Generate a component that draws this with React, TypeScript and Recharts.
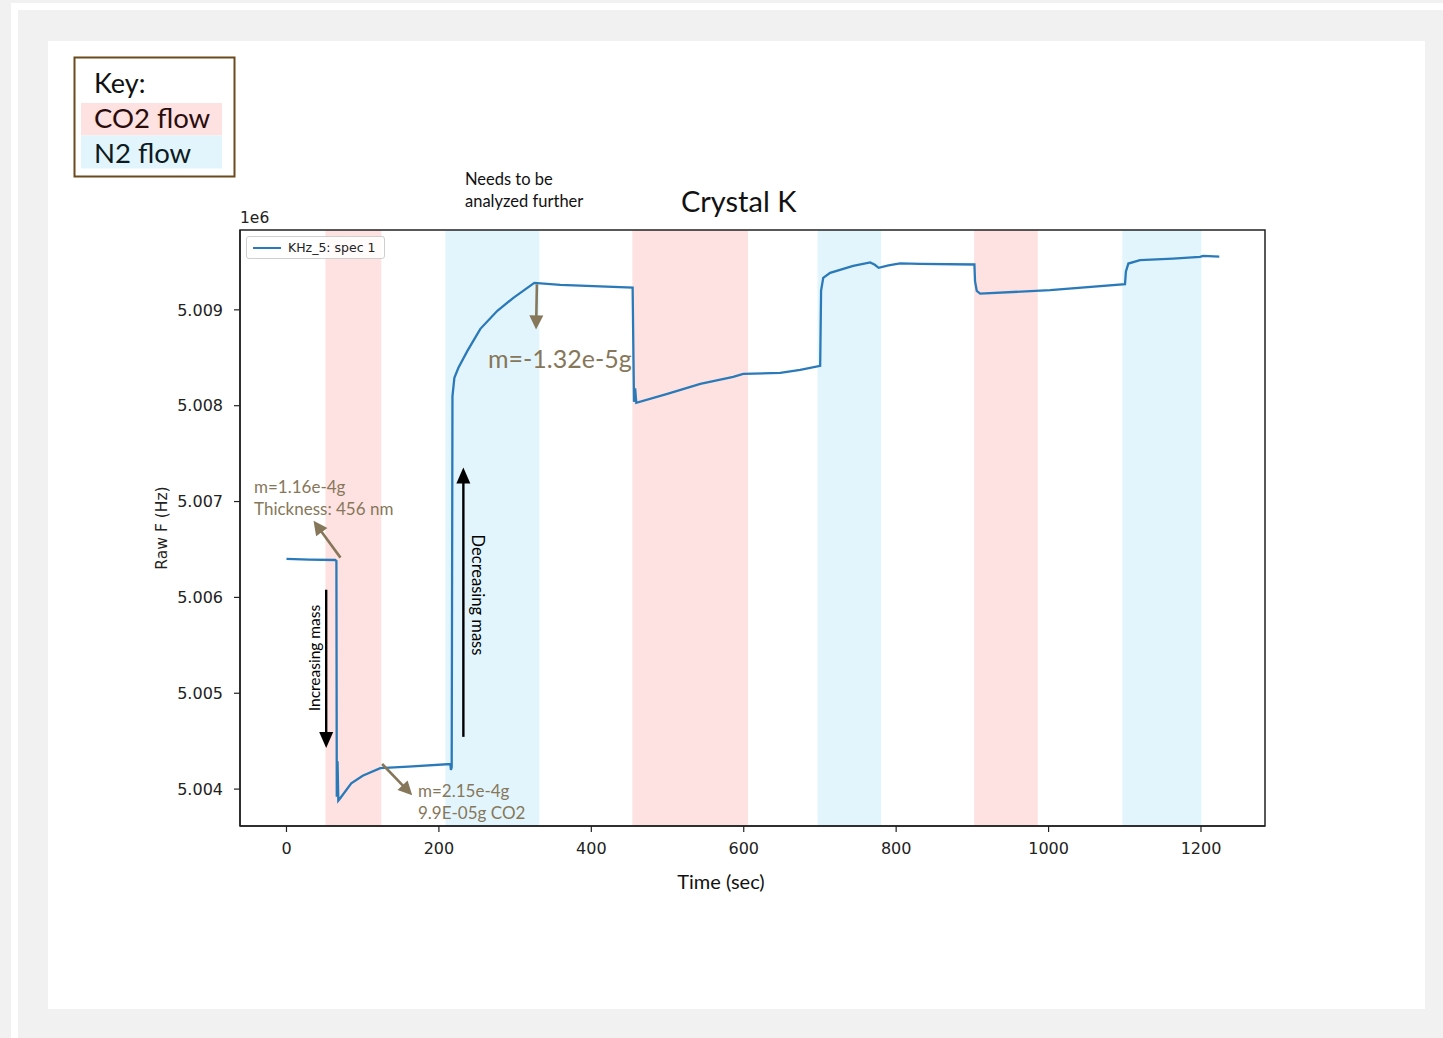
import React from 'react';
import { LineChart, Line, XAxis, YAxis, ReferenceArea, ReferenceLine } from 'recharts';

// ---- data ----
const timeSec = [
  0, 30, 64, 65.5, 66, 67, 68, 70, 85, 100, 123, 160, 215, 215.8, 216.8, 217.8,
  220.3, 225.6, 237.4, 254.4, 276.7, 297.7, 325.2, 359.3, 454.2, 456, 457.5, 459,
  499.7, 543, 586.2, 599.3, 647.9, 674.1, 700.3, 701.5, 704.3, 713.4, 743.6, 766,
  772, 777, 790, 805.2, 831.5, 902.7, 903.5, 905.8, 907, 910.2, 1002, 1100.3,
  1101.5, 1104.7, 1120, 1163.3, 1198.7, 1203, 1224,
];
const rawFreq = [
  5006401, 5006395, 5006390, 5006380, 5003920, 5004290, 5003880, 5003900, 5004060, 5004140, 5004219, 5004235, 5004261, 5004200, 5004230, 5008100,
  5008290, 5008395, 5008572, 5008802, 5008990, 5009125, 5009282, 5009261, 5009233, 5008040, 5008180, 5008030,
  5008123, 5008228, 5008301, 5008332, 5008342, 5008374, 5008415, 5009200, 5009334, 5009386, 5009459, 5009495,
  5009470, 5009438, 5009465, 5009485, 5009480, 5009473, 5009300, 5009198, 5009190, 5009170, 5009205, 5009268,
  5009400, 5009483, 5009519, 5009535, 5009553, 5009564, 5009556,
];
const co2Bands: [number, number][] = [[51.1, 124.4], [453.8, 605.6], [902.3, 985.9]];
const n2Bands: [number, number][] = [[208.5, 331.8], [696.8, 780.3], [1096.8, 1200.5]];
const xTicks = [0, 200, 400, 600, 800, 1000, 1200];
const yTicks = [5004000, 5005000, 5006000, 5007000, 5008000, 5009000];
const xDomain: [number, number] = [-61, 1284];
const yDomain: [number, number] = [5003615, 5009833];
const seriesName = 'KHz_5: spec 1';

// annotation arrows in data coordinates: [t1, v1, t2, v2]
const brownArrows: [number, number, number, number][] = [
  [70.8, 5006415, 35.5, 5006800],
  [125.5, 5004262, 165.0, 5003935],
  [328.6, 5009268, 327.5, 5008795],
];
const blackArrows: [number, number, number, number][] = [
  [52.1, 5006080, 52.1, 5004430],
  [232.1, 5004545, 232.1, 5007355],
];

const data = timeSec.map((t, i) => ({ t, f: rawFreq[i] }));

const BLUE = '#2a7ab9';
const PINK = '#fee2e2';
const CYAN = '#e3f5fc';
const BROWN = '#86775a';
const GILL = 'Lato, "Open Sans", sans-serif';
const DJV = '"DejaVu Sans", sans-serif';

function arrowShape(color: string, w: number, headLen: number, headW: number) {
  return (props: any) => {
    const { x1, y1, x2, y2 } = props;
    const dx = x2 - x1, dy = y2 - y1;
    const L = Math.hypot(dx, dy) || 1;
    const ux = dx / L, uy = dy / L;
    const bx = x2 - ux * headLen, by = y2 - uy * headLen;
    const px = -uy, py = ux;
    return (
      <g>
        <line x1={x1} y1={y1} x2={bx + ux * 2} y2={by + uy * 2} stroke={color} strokeWidth={w} />
        <polygon
          points={`${x2},${y2} ${bx + (px * headW) / 2},${by + (py * headW) / 2} ${bx - (px * headW) / 2},${by - (py * headW) / 2}`}
          fill={color}
        />
      </g>
    );
  };
}

export default function App() {
  return (
    <div style={{ position: 'absolute', left: 0, top: 0, width: 1443, height: 1038, background: '#f1f1f1', overflow: 'hidden' }}>
      {/* outer white frame stripes */}
      <div style={{ position: 'absolute', left: 11, top: 3, width: 1432, height: 7, background: '#fff' }} />
      <div style={{ position: 'absolute', left: 11, top: 3, width: 7, height: 1035, background: '#fff' }} />
      {/* white panel */}
      <div style={{ position: 'absolute', left: 48, top: 41, width: 1377, height: 968, background: '#fff' }} />

      <div style={{ position: 'absolute', left: 0, top: 0 }}>
        <LineChart width={1443} height={1038} data={data} margin={{ top: 230, right: 178, bottom: 182, left: 160 }}>
          {co2Bands.map((b, i) => (
            <ReferenceArea key={'c' + i} x1={b[0]} x2={b[1]} fill={PINK} fillOpacity={1} stroke="none" />
          ))}
          {n2Bands.map((b, i) => (
            <ReferenceArea key={'n' + i} x1={b[0]} x2={b[1]} fill={CYAN} fillOpacity={1} stroke="none" />
          ))}
          <XAxis
            dataKey="t" type="number" domain={xDomain} ticks={xTicks} allowDataOverflow height={30}
            axisLine={{ stroke: '#222', strokeWidth: 1.5 }} tickLine={{ stroke: '#222', strokeWidth: 1.2 }} tickSize={6} tickMargin={11}
            tick={{ fill: '#222', fontSize: 16, fontFamily: DJV }}
          />
          <YAxis
            type="number" domain={yDomain} ticks={yTicks} allowDataOverflow width={80}
            axisLine={{ stroke: '#222', strokeWidth: 1.5 }} tickLine={{ stroke: '#222', strokeWidth: 1.2 }} tickSize={6} tickMargin={11}
            tick={{ fill: '#222', fontSize: 16, fontFamily: DJV }}
            tickFormatter={(v: number) => (v / 1e6).toFixed(3)}
          />
          <Line type="linear" dataKey="f" name={seriesName} stroke={BLUE} strokeWidth={2.3} dot={false} isAnimationActive={false} />
          <ReferenceArea x1={xDomain[0]} x2={xDomain[1]} y1={yDomain[0]} y2={yDomain[1]} fill="none" stroke="#222" strokeWidth={1.5} ifOverflow="visible" />
          {brownArrows.map((a, i) => (
            <ReferenceLine key={'b' + i} segment={[{ x: a[0], y: a[1] }, { x: a[2], y: a[3] }]} ifOverflow="visible"
              shape={arrowShape(BROWN, 2.6, 14, 14)} />
          ))}
          {blackArrows.map((a, i) => (
            <ReferenceLine key={'k' + i} segment={[{ x: a[0], y: a[1] }, { x: a[2], y: a[3] }]} ifOverflow="visible"
              shape={arrowShape('#000', 2.4, 16, 14)} />
          ))}
        </LineChart>
      </div>

      {/* in-plot legend */}
      <div
        style={{
          position: 'absolute', left: 246, top: 236, width: 137, height: 21, border: '1px solid #cfcfcf', borderRadius: 3,
          background: 'rgba(255,255,255,0.85)',
        }}
      >
        <div style={{ position: 'absolute', left: 6, top: 10, width: 28, height: 2, background: BLUE }} />
        <div style={{ position: 'absolute', left: 41, top: 3, fontFamily: DJV, fontSize: 12.5, color: '#222', whiteSpace: 'nowrap', lineHeight: '15px' }}>
          {seriesName}
        </div>
      </div>

      <svg width={1443} height={1038} style={{ position: 'absolute', left: 0, top: 0, pointerEvents: 'none' }}>
        {/* Key box */}
        <rect x={74.5} y={57.5} width={160} height={119} fill="#fff" stroke="#6b4a1c" strokeWidth={2} />
        <rect x={81} y={103} width={141} height={32.5} fill={PINK} />
        <rect x={81} y={135.5} width={141} height={33} fill={CYAN} />
        <text x={94} y={93} fontFamily={GILL} fontSize={27} fill="#111">Key:</text>
        <text x={94} y={128} fontFamily={GILL} fontSize={27.5} fill="#2a0c0c">CO2 flow</text>
        <text x={94} y={163} fontFamily={GILL} fontSize={27.5} fill="#0c1a22">N2 flow</text>

        <text x={465} y={185} fontFamily={GILL} fontSize={16.5} fill="#111">Needs to be</text>
        <text x={465} y={207} fontFamily={GILL} fontSize={16.5} fill="#111">analyzed further</text>
        <text x={681} y={212} fontFamily={GILL} fontSize={29} fill="#111">Crystal K</text>
        <text x={240} y={223} fontFamily={DJV} fontSize={15.5} fill="#222">1e6</text>

        <text x={254} y={493} fontFamily={GILL} fontSize={17} fill={BROWN}>m=1.16e-4g</text>
        <text x={254} y={515} fontFamily={GILL} fontSize={17} fill={BROWN}>Thickness: 456 nm</text>
        <text x={418} y={797} fontFamily={GILL} fontSize={17} fill={BROWN}>m=2.15e-4g</text>
        <text x={418} y={819} fontFamily={GILL} fontSize={17} fill={BROWN}>9.9E-05g CO2</text>
        <text x={488} y={368} fontFamily={GILL} fontSize={25} fill={BROWN}>m=-1.32e-5g</text>

        <text x={0} y={0} transform="translate(320,658) rotate(-90)" textAnchor="middle" fontFamily={GILL} fontSize={15.5} fill="#000">Increasing mass</text>
        <text x={0} y={0} transform="translate(472,595) rotate(90)" textAnchor="middle" fontFamily={GILL} fontSize={16.5} fill="#000">Decreasing mass</text>

        <text x={0} y={0} transform="translate(167,528) rotate(-90)" textAnchor="middle" fontFamily={DJV} fontSize={15.5} fill="#222">Raw F (Hz)</text>
        <text x={721} y={889} textAnchor="middle" fontFamily={GILL} fontSize={20} fill="#111">Time (sec)</text>
      </svg>
    </div>
  );
}
